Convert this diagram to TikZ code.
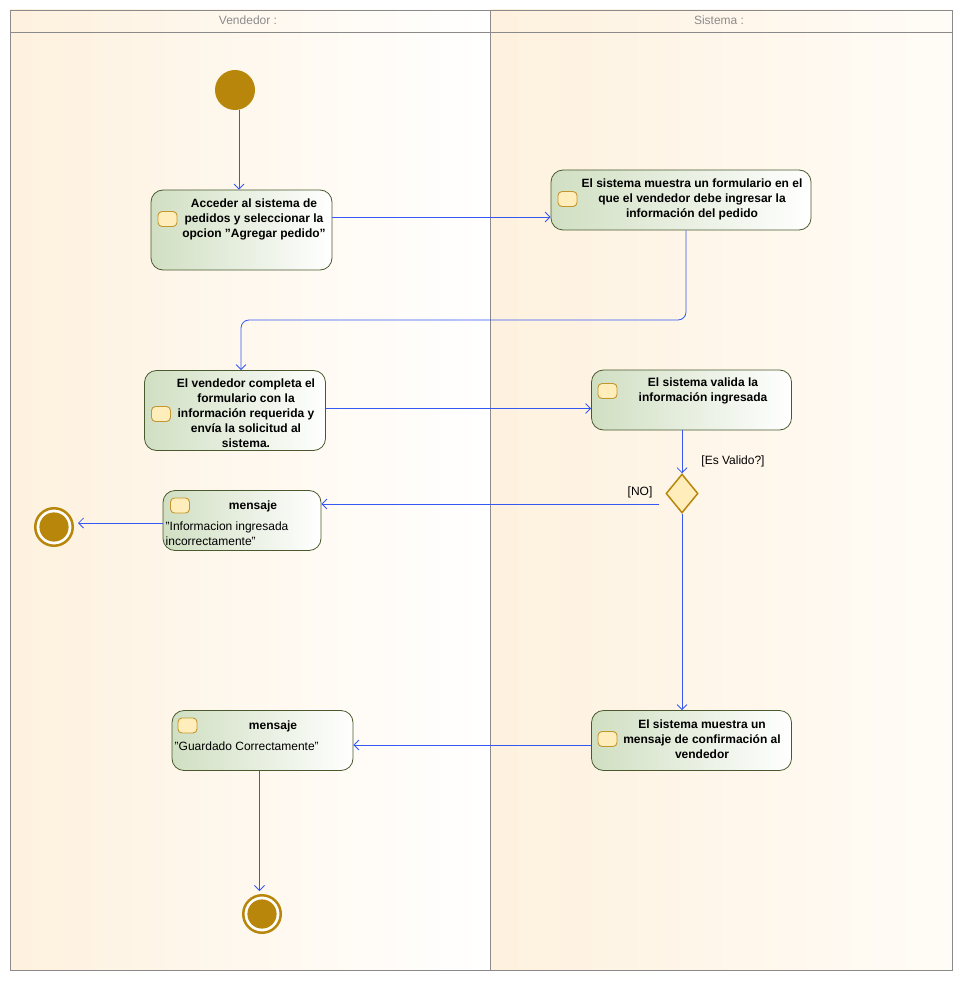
\documentclass[tikz,border=0pt]{standalone}
\usepackage{fontspec}
\setmainfont{Liberation Sans}
\usetikzlibrary{arrows.meta,shapes.geometric,calc}
\newcommand{\mydq}{\symbol{34}}
\definecolor{lanepeach}{HTML}{FEF1DE}
\definecolor{lanelight}{HTML}{FFFFFF}
\definecolor{lanelightb}{HTML}{FFFCF7}
\definecolor{actgreen}{HTML}{D0DFC2}
\definecolor{actborder}{HTML}{4A5A2E}
\definecolor{gold}{HTML}{B8860B}
\definecolor{iconfill}{HTML}{FFEEBB}
\definecolor{iconborder}{HTML}{C4962C}
\definecolor{flowblue}{HTML}{3558F2}
\definecolor{lanegray}{HTML}{8A8A8A}
\definecolor{headtext}{HTML}{8C8C8C}
\begin{document}
\begin{tikzpicture}[x=1pt,y=-1pt,
  act/.style={rectangle, rounded corners=12pt, draw=actborder, line width=0.8pt,
    left color=actgreen, right color=white, inner sep=0pt},
  txt/.style={font=\fontsize{12}{15}\selectfont\bfseries, align=center, inner sep=0pt, text=black},
  plain/.style={font=\fontsize{12}{15}\selectfont, inner sep=0pt, text=black},
  icon/.style={rectangle, rounded corners=4pt, draw=iconborder, fill=iconfill,
    minimum width=19pt, minimum height=15pt, inner sep=0pt, line width=0.9pt},
  flow/.style={draw=flowblue, line width=0.8pt, -{Straight Barb[length=5pt,width=10pt,line width=0.8pt]}},
  startnode/.style={circle, fill=gold, minimum size=40pt, inner sep=0pt},
  endnode/.style={circle, draw=gold, fill=white, line width=2.5pt, minimum size=37.5pt, inner sep=0pt},
  decision/.style={diamond, draw=gold, fill=iconfill, line width=1.5pt, minimum width=32pt, minimum height=39pt, inner sep=0pt},
  lanehead/.style={font=\fontsize{12}{14}\selectfont, text=headtext, inner sep=0pt}
]
\useasboundingbox (0,0) rectangle (963,981);
% swimlanes
\shade[left color=lanepeach, right color=lanelight] (10,10) rectangle (490,970);
\shade[left color=lanepeach, right color=lanelightb] (490,10) rectangle (952,970);
\draw[lanegray, line width=0.8pt] (10,10) rectangle (952,970);
\draw[lanegray, line width=0.8pt] (10,32) -- (952,32);
\draw[lanegray, line width=0.8pt] (490,10) -- (490,970);
\node[lanehead] (h1) at (248,20) {Vendedor :};
\node[lanehead] (h2) at (719,20) {Sistema :};

% initial
\node[startnode] (init) at (235,90) {};

% action 1
\node[act, minimum width=181pt, minimum height=80pt] (a1) at (241.5,230) {};
\node[icon] (i1) at (167.5,219) {};
\node[txt] (t1) at (254,219) {Acceder al sistema de\\pedidos y seleccionar la\\opcion \mydq Agregar pedido\mydq};

% action 2
\node[act, minimum width=260pt, minimum height=60pt] (a2) at (681,200) {};
\node[icon] (i2) at (567.5,199) {};
\node[txt] (t2) at (692,199) {El sistema muestra un formulario en el\\que el vendedor debe ingresar la\\información del pedido};

% action 3
\node[act, minimum width=181pt, minimum height=80pt] (a3) at (235,410.5) {};
\node[icon] (i3) at (161,414) {};
\node[txt] (t3) at (246,413) {El vendedor completa el\\formulario con la\\información requerida y\\envía la solicitud al\\sistema.};

% action 4
\node[act, minimum width=200pt, minimum height=60pt] (a4) at (691.5,400) {};
\node[icon] (i4) at (607.5,391) {};
\node[txt] (t4) at (703,390.5) {El sistema valida la\\información ingresada};

% decision
\node[decision] (dec) at (682,493.5) {};
\node[plain] (lv) at (733,461) {[Es Valido?]};
\node[plain] (lno) at (640,492) {[NO]};

% message 1
\node[act, minimum width=158pt, minimum height=60pt] (m1) at (242,520.5) {};
\node[icon] (i5) at (180,505.5) {};
\node[txt] (t5) at (253,506) {mensaje};
\node[plain, align=left, anchor=west] (t6) at (165.5,533.5) {\mydq Informacion ingresada\\incorrectamente\mydq};

% final 1
\node[endnode] (fin1) at (54,527) {};
\fill[gold] (fin1.center) circle (14.6);

% action 5
\node[act, minimum width=200pt, minimum height=60pt] (a5) at (691.5,740.5) {};
\node[icon] (i6) at (607.5,739) {};
\node[txt] (t7) at (702,739) {El sistema muestra un\\mensaje de confirmación al\\vendedor};

% message 2
\node[act, minimum width=181pt, minimum height=60pt] (m2) at (262.5,740.5) {};
\node[icon] (i7) at (187.5,725.5) {};
\node[txt] (t8) at (273,726) {mensaje};
\node[plain, anchor=west] (t9) at (174.5,746) {\mydq Guardado Correctamente\mydq};

% final 2
\node[endnode] (fin2) at (262,914) {};
\fill[gold] (fin2.center) circle (14.6);

% connectors
\draw[flow] ([xshift=4pt]init.south) -- ([xshift=4pt]init.south |- a1.north);
\draw[flow] ([yshift=13pt]a1.east) -- ([yshift=13pt]a1.east -| a2.west);
\coordinate (k1) at (686,320);
\draw[flow, rounded corners=8pt] ([xshift=5pt]a2.south) -- (k1) -| ([xshift=6pt]a3.north);
\draw[flow] ([yshift=2pt]a3.east) -- ([yshift=2pt]a3.east -| a4.west);
\draw[flow] (dec.north |- a4.south) -- (dec.north);
\coordinate (k2) at (659,504);
\draw[flow] (k2) -- (k2 -| m1.east);
\draw[flow] ([yshift=-2.5pt]m1.west) -- ([yshift=-2.5pt,xshift=4pt]m1.west -| fin1.east);
\draw[flow] (dec.south) -- (dec.south |- a5.north);
\draw[flow] ([yshift=-4.5pt]a5.west) -- ([yshift=-4.5pt]a5.west -| m2.east);
\draw[flow] ([xshift=-3pt]m2.south) -- ([xshift=-3pt,yshift=3pt]m2.south |- fin2.north);
\end{tikzpicture}
\end{document}
